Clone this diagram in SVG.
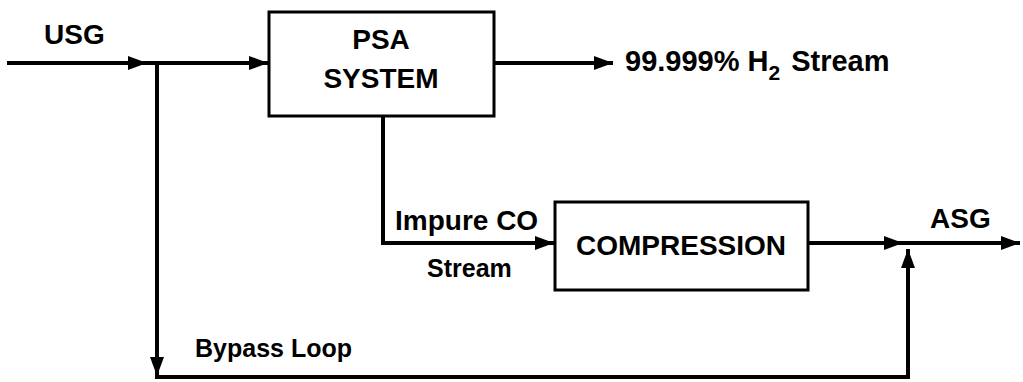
<svg xmlns="http://www.w3.org/2000/svg" width="1023" height="382" viewBox="0 0 1023 382">
  <style>
    .t { font-family: "Liberation Sans", Arial, sans-serif; font-weight: bold; fill: #000; }
    .box { fill: #fff; stroke: #000; stroke-width: 3; }
    .ln { fill: none; stroke: #000; stroke-width: 4; stroke-linejoin: miter; }
  </style>
  <defs>
    <marker id="arr" markerUnits="userSpaceOnUse" markerWidth="20" markerHeight="16" refX="19" refY="8" orient="auto">
      <path d="M0,1 L19,8 L0,15 Z" fill="#000"/>
    </marker>
  </defs>
  <rect width="1023" height="382" fill="#fff"/>

  <g id="connectors">
    <path class="ln" d="M7,63 H147" marker-end="url(#arr)"/>
    <path class="ln" d="M147,63 H268" marker-end="url(#arr)"/>
    <path class="ln" d="M157,63 V376" marker-end="url(#arr)"/>
    <path class="ln" d="M155,377 H908 V249" marker-end="url(#arr)"/>
    <path class="ln" d="M494,63 H613" marker-end="url(#arr)"/>
    <path class="ln" d="M383,116 V243 H554" marker-end="url(#arr)"/>
    <path class="ln" d="M808,243 H903" marker-end="url(#arr)"/>
    <path class="ln" d="M903,243 H1020" marker-end="url(#arr)"/>
  </g>

  <g id="psa">
    <rect class="box" x="269" y="12" width="225" height="104"/>
    <text class="t" x="381" y="49" font-size="28" text-anchor="middle">PSA</text>
    <text class="t" x="381" y="88" font-size="28" text-anchor="middle">SYSTEM</text>
  </g>

  <g id="compression">
    <rect class="box" x="555" y="202" width="253" height="88"/>
    <text class="t" x="681" y="255" font-size="28" text-anchor="middle">COMPRESSION</text>
  </g>

  <g id="labels">
    <text class="t" x="44" y="44" font-size="28">USG</text>
    <text class="t" x="625" y="71" font-size="29">99.999% H<tspan font-size="21" dy="9">2</tspan><tspan dx="11" dy="-9">Stream</tspan></text>
    <text class="t" x="395" y="230" font-size="28">Impure CO</text>
    <text class="t" x="427" y="277" font-size="25">Stream</text>
    <text class="t" x="930" y="228" font-size="28">ASG</text>
    <text class="t" x="195" y="357" font-size="25">Bypass Loop</text>
  </g>
</svg>
